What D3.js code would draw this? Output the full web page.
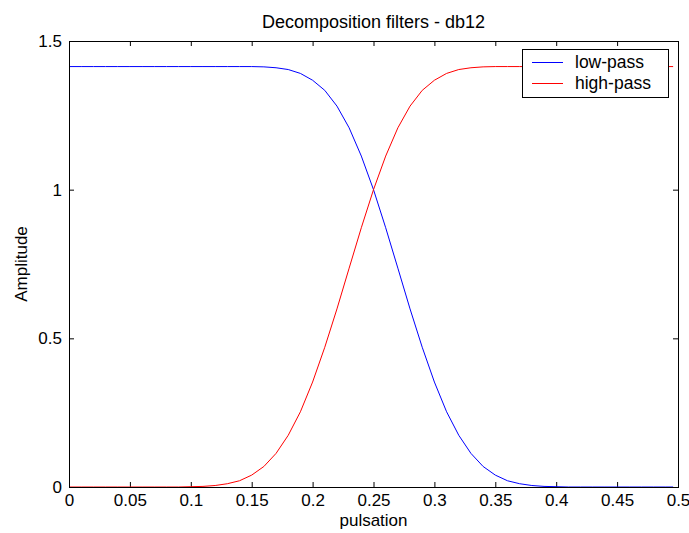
<!DOCTYPE html>
<html>
<head>
<meta charset="utf-8">
<script src="https://cdn.jsdelivr.net/npm/d3@7"></script>
<style>
  body { margin: 0; background: #fff; }
  text { font-family: "Liberation Sans", Arial, sans-serif; fill: #000; }
</style>
</head>
<body>
<div id="chart"></div>
<script>
// values
var pulsation = [0, 0.01, 0.02, 0.03, 0.04, 0.05, 0.06, 0.07, 0.08, 0.09,
    0.10, 0.11, 0.12, 0.13, 0.14, 0.15, 0.16, 0.17, 0.18, 0.19,
    0.20, 0.21, 0.22, 0.23, 0.24, 0.25, 0.26, 0.27, 0.28, 0.29,
    0.30, 0.31, 0.32, 0.33, 0.34, 0.35, 0.36, 0.37, 0.38, 0.39,
    0.40, 0.41, 0.42, 0.43, 0.44, 0.45, 0.46, 0.47, 0.48, 0.49, 0.496];
var lowPass = [1.414, 1.414, 1.414, 1.414, 1.414, 1.414, 1.414, 1.414, 1.414, 1.414,
    1.414, 1.414, 1.414, 1.414, 1.414, 1.414, 1.413, 1.410, 1.404, 1.391,
    1.368, 1.334, 1.281, 1.208, 1.113, 1.000, 0.872, 0.736, 0.599, 0.470,
    0.353, 0.253, 0.174, 0.113, 0.069, 0.040, 0.021, 0.011, 0.005, 0.002,
    0.001, 0, 0, 0, 0, 0, 0, 0, 0, 0, 0];
var highPass = [0, 0, 0, 0, 0, 0, 0, 0, 0, 0,
    0.001, 0.002, 0.005, 0.011, 0.021, 0.040, 0.069, 0.113, 0.174, 0.253,
    0.353, 0.470, 0.599, 0.736, 0.872, 1.000, 1.113, 1.208, 1.281, 1.334,
    1.368, 1.391, 1.404, 1.410, 1.413, 1.414, 1.414, 1.414, 1.414, 1.414,
    1.414, 1.414, 1.414, 1.414, 1.414, 1.414, 1.414, 1.414, 1.414, 1.414, 1.414];
var xTicks = [0, 0.05, 0.1, 0.15, 0.2, 0.25, 0.3, 0.35, 0.4, 0.45, 0.5];
var yTicks = [0, 0.5, 1, 1.5];
var seriesNames = ["low-pass", "high-pass"];
var seriesColors = ["#0000ff", "#ff0000"];

var width = 689, height = 533;
var m = { left: 69, right: 11, top: 41, bottom: 46 };
var w = width - m.left - m.right, h = height - m.top - m.bottom;

var svg = d3.select("#chart").append("svg").attr("width", width).attr("height", height);
var g = svg.append("g").attr("transform", "translate(" + m.left + "," + m.top + ")");

var x = d3.scaleLinear().domain([0, 0.5]).range([0, w]);
var y = d3.scaleLinear().domain([0, 1.5]).range([h, 0]);

function fmt(d) { return String(d); }

var tl = 5;
g.append("g").attr("transform", "translate(0," + h + ")")
    .call(d3.axisBottom(x).tickValues(xTicks).tickFormat(fmt).tickSizeInner(-tl).tickSizeOuter(0).tickPadding(7));
g.append("g")
    .call(d3.axisTop(x).tickValues(xTicks).tickFormat("").tickSizeInner(-tl).tickSizeOuter(0));
g.append("g")
    .call(d3.axisLeft(y).tickValues(yTicks).tickFormat(fmt).tickSizeInner(-tl).tickSizeOuter(0).tickPadding(7));
g.append("g").attr("transform", "translate(" + w + ",0)")
    .call(d3.axisRight(y).tickValues(yTicks).tickFormat("").tickSizeInner(-tl).tickSizeOuter(0));
g.selectAll(".domain").remove();
g.selectAll(".tick line").attr("stroke", "#000");
g.selectAll(".tick text").style("font-size", "17px").attr("font-family", null);

var line = d3.line().x(function (d) { return x(d[0]); }).y(function (d) { return y(d[1]); });
[lowPass, highPass].forEach(function (vals, i) {
    g.append("path")
        .datum(pulsation.map(function (p, j) { return [p, vals[j]]; }))
        .attr("fill", "none").attr("stroke", seriesColors[i]).attr("stroke-width", 1)
        .attr("d", line);
});

g.append("rect").attr("x", 0.5).attr("y", 0.5).attr("width", w).attr("height", h)
    .attr("fill", "none").attr("stroke", "#000");

// legend
var lg = g.append("g").attr("transform", "translate(" + (w - 156) + ",8)");
lg.append("rect").attr("x", 0.5).attr("y", 0.5).attr("width", 146).attr("height", 48)
    .attr("fill", "#fff").attr("stroke", "#000");
seriesNames.forEach(function (name, i) {
    lg.append("line").attr("x1", 10).attr("x2", 41).attr("y1", 13.5 + i * 21).attr("y2", 13.5 + i * 21)
        .attr("stroke", seriesColors[i]);
    lg.append("text").attr("x", 53).attr("y", 19 + i * 21).style("font-size", "17.5px").text(name);
});

svg.append("text").attr("x", m.left + w / 2).attr("y", 28).attr("text-anchor", "middle")
    .style("font-size", "18px").text("Decomposition filters - db12");
svg.append("text").attr("x", m.left + w / 2).attr("y", 526).attr("text-anchor", "middle")
    .style("font-size", "17px").text("pulsation");
svg.append("text").attr("transform", "translate(27," + (m.top + h / 2) + ") rotate(-90)")
    .attr("text-anchor", "middle").style("font-size", "17px").text("Amplitude");
</script>
</body>
</html>
